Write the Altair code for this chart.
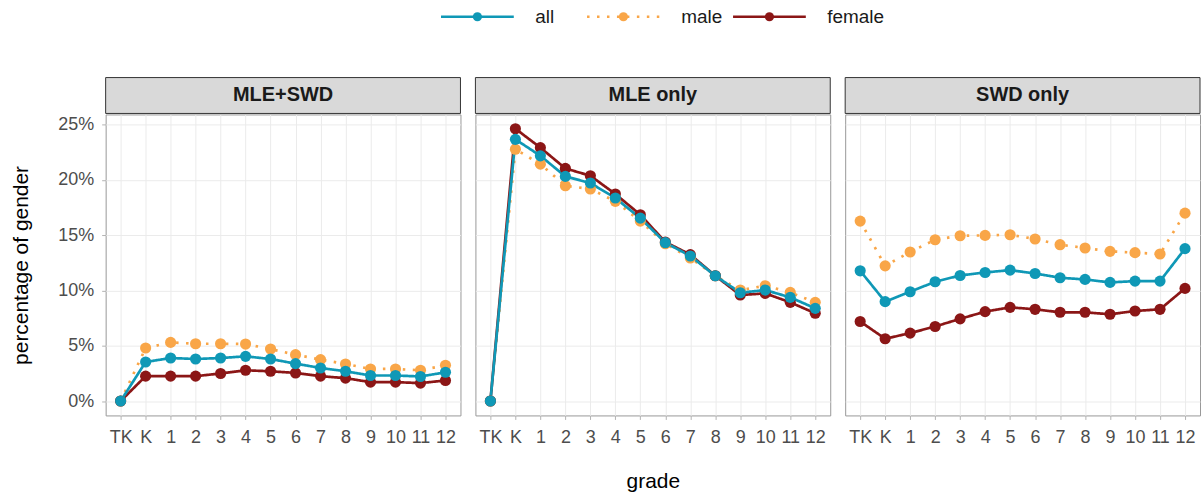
import altair as alt
import pandas as pd

GRADES = ["TK", "K", "1", "2", "3", "4", "5", "6", "7", "8", "9", "10", "11", "12"]
PANELS = ["MLE+SWD", "MLE only", "SWD only"]
GENDERS = ["all", "male", "female"]
COLORS = ["#0f98b6", "#f9a648", "#8b1616"]
DASHES = [[1, 0], [2.5, 7.5], [1, 0]]

# percentage of gender (TK ... 12)
MLE_SWD_ALL = [0, 3.53, 3.89, 3.80, 3.89, 4.04, 3.80, 3.38, 2.99, 2.69, 2.31, 2.31, 2.22, 2.60]
MLE_SWD_MALE = [0, 4.79, 5.30, 5.18, 5.18, 5.15, 4.70, 4.19, 3.74, 3.35, 2.90, 2.90, 2.78, 3.23]
MLE_SWD_FEMALE = [0, 2.25, 2.25, 2.25, 2.49, 2.78, 2.69, 2.54, 2.25, 2.07, 1.71, 1.71, 1.62, 1.86]
MLE_ALL = [0, 23.65, 22.16, 20.30, 19.70, 18.35, 16.53, 14.31, 13.11, 11.32, 9.79, 10.03, 9.37, 8.38]
MLE_MALE = [0, 22.75, 21.41, 19.46, 19.16, 18.05, 16.26, 14.22, 12.93, 11.32, 10.03, 10.42, 9.82, 8.92]
MLE_FEMALE = [0, 24.61, 22.90, 21.02, 20.36, 18.71, 16.83, 14.37, 13.23, 11.32, 9.58, 9.73, 8.92, 7.93]
SWD_ALL = [11.77, 8.98, 9.88, 10.78, 11.35, 11.62, 11.83, 11.53, 11.14, 10.99, 10.72, 10.84, 10.84, 13.77]
SWD_MALE = [16.26, 12.22, 13.47, 14.58, 14.94, 14.97, 15.03, 14.64, 14.13, 13.83, 13.53, 13.41, 13.29, 16.98]
SWD_FEMALE = [7.19, 5.63, 6.14, 6.74, 7.43, 8.08, 8.47, 8.29, 8.02, 8.02, 7.84, 8.14, 8.29, 10.18]

SERIES = {
    "MLE+SWD": {"all": MLE_SWD_ALL, "male": MLE_SWD_MALE, "female": MLE_SWD_FEMALE},
    "MLE only": {"all": MLE_ALL, "male": MLE_MALE, "female": MLE_FEMALE},
    "SWD only": {"all": SWD_ALL, "male": SWD_MALE, "female": SWD_FEMALE},
}
ZORDER = {"male": 0, "female": 1, "all": 2}

rows = []
for p in PANELS:
    for g in ["male", "female", "all"]:
        for gr, v in zip(GRADES, SERIES[p][g]):
            rows.append({"panel": p, "gender": g, "grade": gr, "value": v, "z": ZORDER[g]})
df = pd.DataFrame(rows)

FONT = "Liberation Sans"
PW, PH = 356, 302

color = alt.Color("gender:N", scale=alt.Scale(domain=GENDERS, range=COLORS), legend=None)
dash = alt.StrokeDash("gender:N", scale=alt.Scale(domain=GENDERS, range=DASHES), legend=None)


def panel(p, first, mid):
    d = df[df.panel == p]
    x = alt.X(
        "grade:N", sort=GRADES,
        scale=alt.Scale(type="point", domain=GRADES, padding=0.6),
        axis=alt.Axis(
            title="grade" if mid else "", labelAngle=0, labelFontSize=18, labelColor="#4d4d4d",
            labelFont=FONT, titleFont=FONT, titleFontSize=21, titleFontWeight="normal",
            titleColor="#000000", titlePadding=24, tickSize=4, tickColor="#b3b3b3",
            labelPadding=9, domain=False, grid=True, gridColor="#ebebeb", gridWidth=1,
        ),
    )
    if first:
        yaxis = alt.Axis(
            values=[0, 5, 10, 15, 20, 25], labelExpr="datum.value + '%'", title="percentage of gender",
            labelFontSize=18, labelColor="#4d4d4d", labelFont=FONT, titleFont=FONT,
            titleFontSize=21, titleFontWeight="normal", titleColor="#000000", titlePadding=26,
            tickSize=4, tickColor="#b3b3b3", labelPadding=8, domain=False, grid=True,
            gridColor="#ebebeb", gridWidth=1,
        )
    else:
        yaxis = alt.Axis(
            values=[0, 5, 10, 15, 20, 25], labels=False, ticks=False, title="", domain=False,
            grid=True, gridColor="#ebebeb", gridWidth=1,
        )
    y = alt.Y("value:Q", scale=alt.Scale(domain=[-1.3, 25.9], nice=False, zero=False), axis=yaxis)
    base = alt.Chart(d)
    lines = base.mark_line(strokeWidth=2.7, strokeCap="butt").encode(x=x, y=y, color=color, strokeDash=dash)
    pts = base.mark_circle(size=125, opacity=1).encode(x=x, y=y, color=color, order=alt.Order("z:Q"))
    strip_df = pd.DataFrame({"panel": [p]})
    strip = alt.Chart(strip_df).mark_rect(fill="#d9d9d9", stroke="#333333", strokeWidth=1).encode(
        x=alt.value(0), x2=alt.value(PW), y=alt.value(-37), y2=alt.value(-1)
    )
    stext = alt.Chart(strip_df).mark_text(fontSize=20, fontWeight="bold", font=FONT, color="#1a1a1a").encode(
        text="panel:N", x=alt.value(PW / 2), y=alt.value(-19)
    )
    return alt.layer(lines, pts, strip, stext).properties(
        width=PW, height=PH, view=alt.ViewBackground(stroke="#999999", strokeWidth=1)
    )


row = alt.hconcat(
    panel(PANELS[0], True, False), panel(PANELS[1], False, True), panel(PANELS[2], False, False), spacing=13
)

leg_df = pd.DataFrame({"gender": GENDERS})
lx = alt.X("gender:N", sort=GENDERS,
           scale=alt.Scale(type="point", domain=GENDERS, range=[373, 666], padding=0), axis=None)
seg = alt.Chart(leg_df).mark_point(shape="M-1,0L1,0", filled=False, strokeWidth=2.6, size=73 * 73, opacity=1,
                                   strokeCap="butt").encode(x=lx, y=alt.value(10), color=color, strokeDash=dash)
dot = alt.Chart(leg_df).mark_circle(size=85, opacity=1).encode(x=lx, y=alt.value(10), color=color)
lab = alt.Chart(leg_df).mark_text(align="left", baseline="middle", dx=58, fontSize=19, font=FONT,
                                  color="#1a1a1a").encode(x=lx, y=alt.value(10), text="gender:N")
legend = alt.layer(seg, dot, lab).properties(width=800, height=20, view=alt.ViewBackground(strokeWidth=0))

chart = alt.vconcat(legend, row, spacing=50).properties(
    padding={"left": 10, "top": 6, "right": 0, "bottom": 0}, background="#ffffff"
)

chart.save("out.html", embed_options={"renderer": "svg", "actions": False})
